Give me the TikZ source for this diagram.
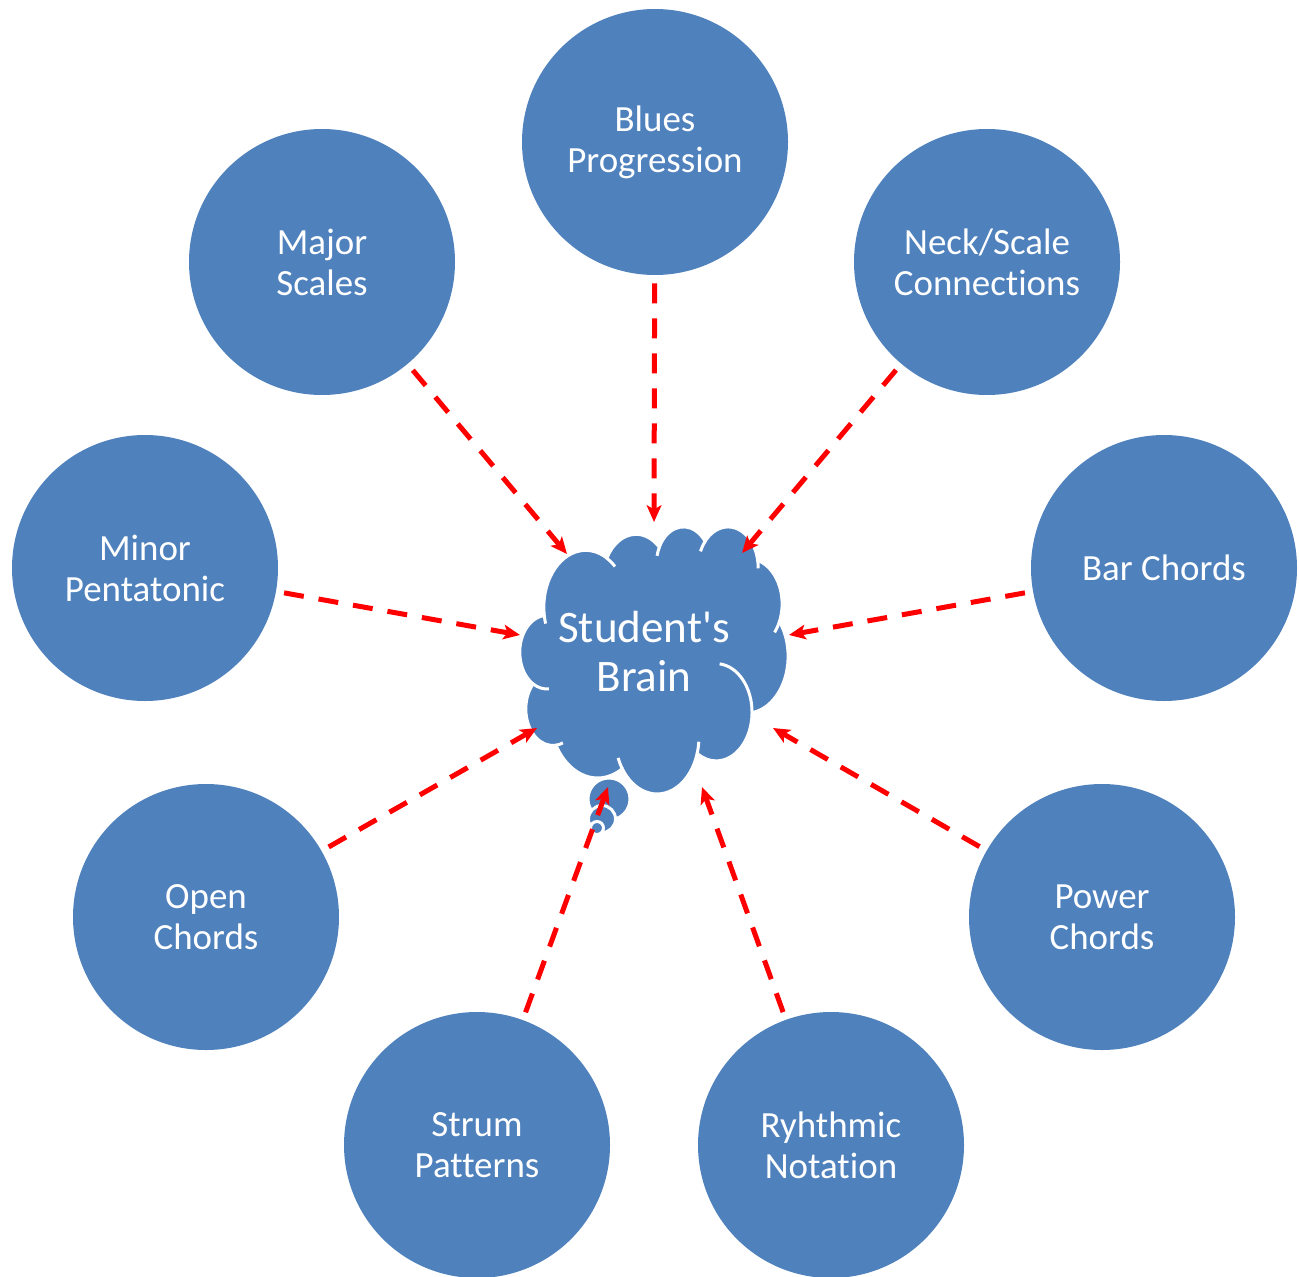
\documentclass[tikz,border=0pt]{standalone}
\usepackage{fontspec}
\setmainfont{Carlito}[Ligatures={TeXOff,NoCommon}]
\usetikzlibrary{arrows.meta}
\definecolor{nodeblue}{HTML}{4F81BD}
\newcommand\ooset[5]{%
  \pgfmathsetmacro\ootmpA{atan2((#2)*sin(#4),(#3)*cos(#4))}%
  \pgfmathsetmacro\ootmpB{atan2((#2)*sin((#4)+(#5)),(#3)*cos((#4)+(#5)))}%
  \pgfmathsetmacro\ootmpD{(#5)>0 ? mod(\ootmpB-\ootmpA+720,360) : -mod(\ootmpA-\ootmpB+720,360)}%
  \expandafter\xdef\csname ooA#1\endcsname{\ootmpA}%
  \expandafter\xdef\csname ooD#1\endcsname{\ootmpD}%
  \expandafter\xdef\csname ooX#1\endcsname{#2}%
  \expandafter\xdef\csname ooY#1\endcsname{#3}%
}
\newcommand\ooarc[1]{arc[start angle=\csname ooA#1\endcsname, delta angle=\csname ooD#1\endcsname, x radius=\csname ooX#1\endcsname, y radius=\csname ooY#1\endcsname]}
\begin{document}
\begin{tikzpicture}[x=0.75pt,y=-0.75pt,
  topic/.style={circle, fill=nodeblue, minimum size=199.5pt, inner sep=0pt, text=white, align=center, font=\fontsize{27.7}{30.75}\selectfont},
  link/.style={draw=red, line width=3.75pt, dash pattern=on 15pt off 11.25pt, -{Stealth[length=12.5pt,width=11pt,inset=3pt]}, shorten <=6pt},
  cloudline/.style={draw=white, line width=2.25pt},
  cloudbody/.style={fill=nodeblue, draw=white, line width=2.25pt}]
\useasboundingbox (0,0) rectangle (1299,1277);
% topic circles
\node[topic] (blues) at (655,142) {Blues\\Progression};
\node[topic] (major) at (322,262) {Major\\Scales};
\node[topic] (neck) at (987,262) {Neck/Scale\\Connections};
\node[topic] (minor) at (145,568) {Minor\\Pentatonic};
\node[topic] (bar) at (1164,568) {Bar Chords};
\node[topic] (open) at (206,917) {Open\\Chords};
\node[topic] (power) at (1102,917) {Power\\Chords};
\node[topic] (strum) at (477,1145) {Strum\\Patterns};
\node[topic] (rhythm) at (831,1145) {Ryhthmic\\Notation};
% cloud (thought bubble)
\ooset{c1}{67.53}{91.90}{-190.48748}{123.78053}
\ooset{c2}{53.33}{72.67}{-144.10238}{89.94523}
\ooset{c3}{43.65}{59.45}{-145.80792}{99.72302}
\ooset{c4}{48.57}{65.95}{-130.98607}{117.24173}
\ooset{c5}{53.33}{72.73}{-78.70888}{109.02692}
\ooset{c6}{67.75}{92.20}{-46.26725}{130.269}
\ooset{c7}{57.85}{78.67}{0.62502}{114.03333}
\ooset{c8}{67.52}{92.15}{22.4516}{115.17255}
\ooset{c9}{77.20}{105.43}{66.24263}{75.71102}
\ooset{c10}{43.60}{59.18}{-274.94208}{146.73557}
\ooset{c11}{43.45}{59.45}{-246.8285}{152.51885}
\ooset{i1}{67.53}{91.90}{-66.70695}{12.319}
\ooset{i2}{43.65}{59.45}{-145.80792}{-17.686}
\ooset{i3}{48.57}{65.95}{-130.98607}{-18.195}
\ooset{i4}{48.57}{65.95}{-13.74434}{14.859}
\ooset{i5}{53.33}{72.73}{30.31804}{18}
\ooset{i6}{57.85}{78.67}{0.62502}{-86.5123}
\ooset{i7}{67.52}{92.15}{22.4516}{-15.9984}
\ooset{i8}{67.52}{92.15}{137.62415}{14.0811}
\ooset{i9}{43.60}{59.18}{-274.94208}{-11.4475}
\ooset{i10}{43.45}{59.45}{-246.8285}{-26.4295}
\ooset{i11}{67.53}{91.90}{-190.48748}{-11.8582}
\begin{scope}[shift={(520,526)}, x=0.46528pt, y=-0.46354pt]
  \path[cloudbody] (39.00,143.70) coordinate (J1) \ooarc{c1} coordinate (J2)
    \ooarc{c2} coordinate (J3) \ooarc{c3} coordinate (J4) \ooarc{c4} coordinate (J5)
    \ooarc{c5} coordinate (J6) \ooarc{c6} coordinate (J7) \ooarc{c7} coordinate (J8)
    \ooarc{c8} coordinate (J9) \ooarc{c9} coordinate (J10) \ooarc{c10} coordinate (J11)
    \ooarc{c11} -- cycle;
  \draw[cloudline] (J2) \ooarc{i1};
  \draw[cloudline] (J3) \ooarc{i2};
  \draw[cloudline] (J4) \ooarc{i3};
  \draw[cloudline] (J5) \ooarc{i4};
  \draw[cloudline] (J6) \ooarc{i5};
  \draw[cloudline] (J7) \ooarc{i6};
  \draw[cloudline] (J8) \ooarc{i7};
  \draw[cloudline] (J9) \ooarc{i8};
  \draw[cloudline] (J10) \ooarc{i9};
  \draw[cloudline] (J11) \ooarc{i10};
  \draw[cloudline] (J1) \ooarc{i11};
\end{scope}
\path[cloudbody] (609,799) circle[radius=21];
\path[cloudbody] (602,819) circle[radius=13.5];
\path[cloudbody] (597,828) circle[radius=6.5];
\node[text=white, align=center, font=\fontsize{33.8}{36.75}\selectfont] (brain) at (644,652) {Student's\\Brain};
% arrow targets on the cloud
\coordinate (tBlues) at (654,522);
\coordinate (tMajor) at (567,554);
\coordinate (tNeck) at (742,553);
\coordinate (tMinor) at (520,635);
\coordinate (tBar) at (789,635);
\coordinate (tOpen) at (537,728);
\coordinate (tPower) at (773,728);
\coordinate (tStrum) at (608,787);
\coordinate (tRhythm) at (702,787);
\draw[link] (blues) -- (tBlues);
\draw[link] (major) -- (tMajor);
\draw[link] (neck) -- (tNeck);
\draw[link] (minor) -- (tMinor);
\draw[link] (bar) -- (tBar);
\draw[link] (open) -- (tOpen);
\draw[link] (power) -- (tPower);
\draw[link] (strum) -- (tStrum);
\draw[link] (rhythm) -- (tRhythm);
\end{tikzpicture}
\end{document}
